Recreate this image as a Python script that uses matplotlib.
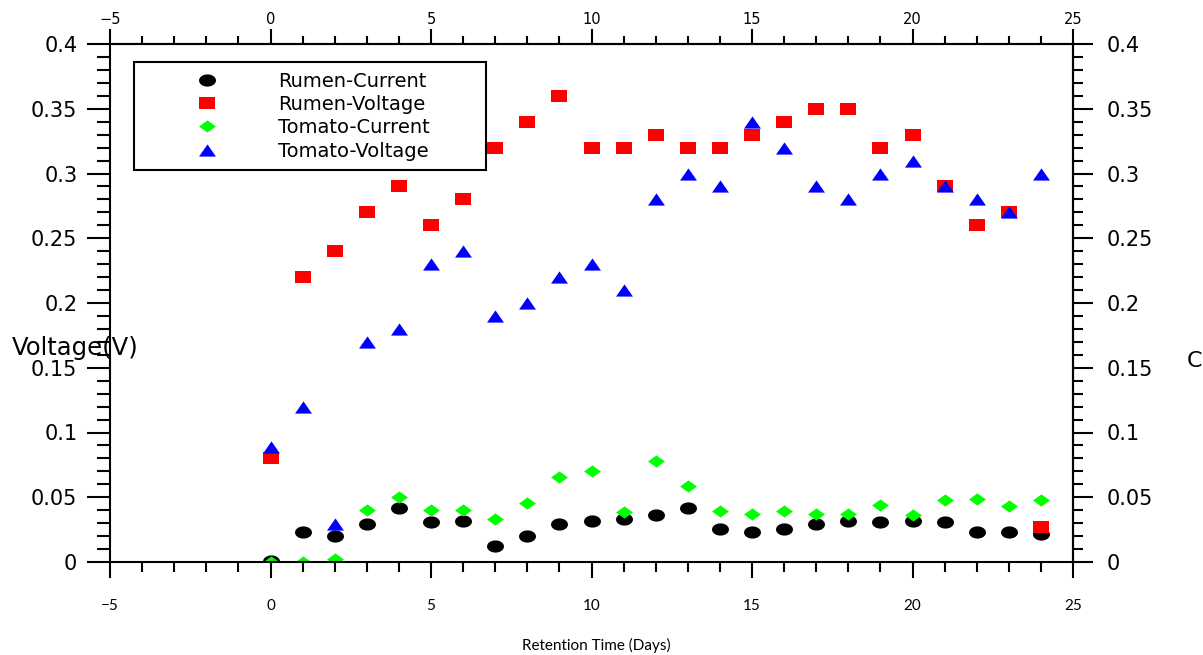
import matplotlib
matplotlib.use("Agg")
import matplotlib.pyplot as plt
from matplotlib.path import Path
from matplotlib.ticker import MultipleLocator, FuncFormatter, FixedLocator
import numpy as np

days = list(range(0, 25))
rumen_current = [0.001, 0.023, 0.020, 0.029, 0.042, 0.031, 0.032, 0.012, 0.020, 0.029,
                 0.032, 0.033, 0.036, 0.042, 0.0255, 0.023, 0.0255, 0.029, 0.032, 0.031,
                 0.032, 0.031, 0.023, 0.023, 0.022]
rumen_voltage = [0.08, 0.22, 0.24, 0.27, 0.29, 0.26, 0.28, 0.32, 0.34, 0.36,
                 0.32, 0.32, 0.33, 0.32, 0.32, 0.33, 0.34, 0.35, 0.35, 0.32,
                 0.33, 0.29, 0.26, 0.27, 0.027]
tomato_current = [0.0, 0.0, 0.002, 0.040, 0.050, 0.040, 0.040, 0.033, 0.0455, 0.066,
                  0.070, 0.0386, 0.078, 0.059, 0.039, 0.037, 0.039, 0.037, 0.037, 0.044,
                  0.036, 0.048, 0.049, 0.043, 0.048]
tomato_voltage = [0.089, 0.12, 0.029, 0.17, 0.18, 0.23, 0.24, 0.19, 0.20, 0.22,
                  0.23, 0.21, 0.28, 0.30, 0.29, 0.34, 0.32, 0.29, 0.28, 0.30,
                  0.31, 0.29, 0.28, 0.27, 0.30]
series_names = ["Rumen-Current", "Rumen-Voltage", "Tomato-Current", "Tomato-Voltage"]
x_major = [-5, 0, 5, 10, 15, 20, 25]
x_minor = list(range(-5, 26))
y_major = [0, 0.05, 0.1, 0.15, 0.2, 0.25, 0.3, 0.35, 0.4]
y_minor = [i / 100 for i in range(0, 41)]

# horizontally-stretched marker shapes
asp = 0.72
theta = np.linspace(0, 2 * np.pi, 60)
ellipse = Path(np.column_stack([np.cos(theta), asp * np.sin(theta)]), closed=True)
rect = Path([(-1, -asp), (1, -asp), (1, asp), (-1, asp), (-1, -asp)], closed=True)
diamond = Path([(-1, 0), (0, -asp), (1, 0), (0, asp), (-1, 0)], closed=True)
tri = Path([(-1, -asp), (1, -asp), (0, asp), (-1, -asp)], closed=True)

fig = plt.figure(figsize=(12.03, 6.55), dpi=100)
L, R, T, B = 110 / 1203, 1073 / 1203, 1 - 44 / 655, 1 - 562 / 655
ax = fig.add_axes([L, B, R - L, T - B])

ms = 12.2
ax.plot(days, rumen_current, linestyle="none", marker=ellipse, markersize=ms,
        color="black", markeredgewidth=0, label=series_names[0])
ax.plot(days, rumen_voltage, linestyle="none", marker=rect, markersize=ms,
        color="#ff0000", markeredgewidth=0, label=series_names[1])
ax.plot(days, tomato_current, linestyle="none", marker=diamond, markersize=ms,
        color="#00ff00", markeredgewidth=0, label=series_names[2])
ax.plot(days, tomato_voltage, linestyle="none", marker=tri, markersize=ms,
        color="#0000ff", markeredgewidth=0, label=series_names[3])

ax.set_xlim(-5, 25)
ax.set_ylim(0, 0.4)

for s in ax.spines.values():
    s.set_linewidth(1.5)
    s.set_color("black")

ax.xaxis.set_major_locator(FixedLocator(x_major))
ax.xaxis.set_minor_locator(FixedLocator(x_minor))
ax.yaxis.set_major_locator(FixedLocator(y_major))
ax.yaxis.set_minor_locator(FixedLocator(y_minor))

yfmt = FuncFormatter(lambda v, p: "0" if abs(v) < 1e-9 else f"{v:g}")
ax.yaxis.set_major_formatter(yfmt)

ax.tick_params(axis="x", which="major", direction="out", length=11.5, width=1.5,
               pad=15, labelsize=11)
ax.tick_params(axis="x", which="minor", direction="out", length=7, width=1.5)
ax.tick_params(axis="y", which="major", direction="out", length=16.5, width=1.5,
               pad=7, labelsize=15)
ax.tick_params(axis="y", which="minor", direction="out", length=9.4, width=1.5)
for lab in ax.get_xticklabels():
    lab.set_fontfamily("Lato")

top = ax.secondary_xaxis("top")
top.xaxis.set_major_locator(FixedLocator(x_major))
top.xaxis.set_minor_locator(FixedLocator(x_minor))
top.tick_params(axis="x", which="major", direction="out", length=10.8, width=1.5,
                pad=1.5, labelsize=10.5)
top.tick_params(axis="x", which="minor", direction="out", length=5.8, width=1.5)
top.spines["top"].set_linewidth(1.5)

right = ax.secondary_yaxis("right")
right.yaxis.set_major_locator(FixedLocator(y_major))
right.yaxis.set_minor_locator(FixedLocator(y_minor))
right.yaxis.set_major_formatter(yfmt)
right.tick_params(axis="y", which="major", direction="out", length=14.4, width=1.5,
                  pad=10, labelsize=15)
right.tick_params(axis="y", which="minor", direction="out", length=7.2, width=1.5)
right.spines["right"].set_linewidth(1.5)

fig.text(12 / 1203, 1 - 348 / 655, "Voltage(V)", fontsize=17.5, ha="left", va="center")
fig.text(1187 / 1203, 1 - 361 / 655, "Current(A)", fontsize=16, ha="left", va="center")
fig.text(596 / 1203, 1 - 645 / 655, "Retention Time (Days)", fontsize=11,
         family="Lato", ha="center", va="center")

x0 = (134 - 110) / 963
y1 = (562 - 62) / 518
w = (486 - 134) / 963
h = (170 - 62) / 518
leg = ax.legend(loc="upper left", bbox_to_anchor=(x0, y1 - h, w, h), mode="expand",
                fontsize=14, borderpad=0.5, handlelength=6.5, handletextpad=0.4,
                labelspacing=0.22, fancybox=False, framealpha=1, borderaxespad=0)
leg.get_frame().set_edgecolor("black")
leg.get_frame().set_linewidth(1.5)

fig.savefig("out.png", dpi=100)
